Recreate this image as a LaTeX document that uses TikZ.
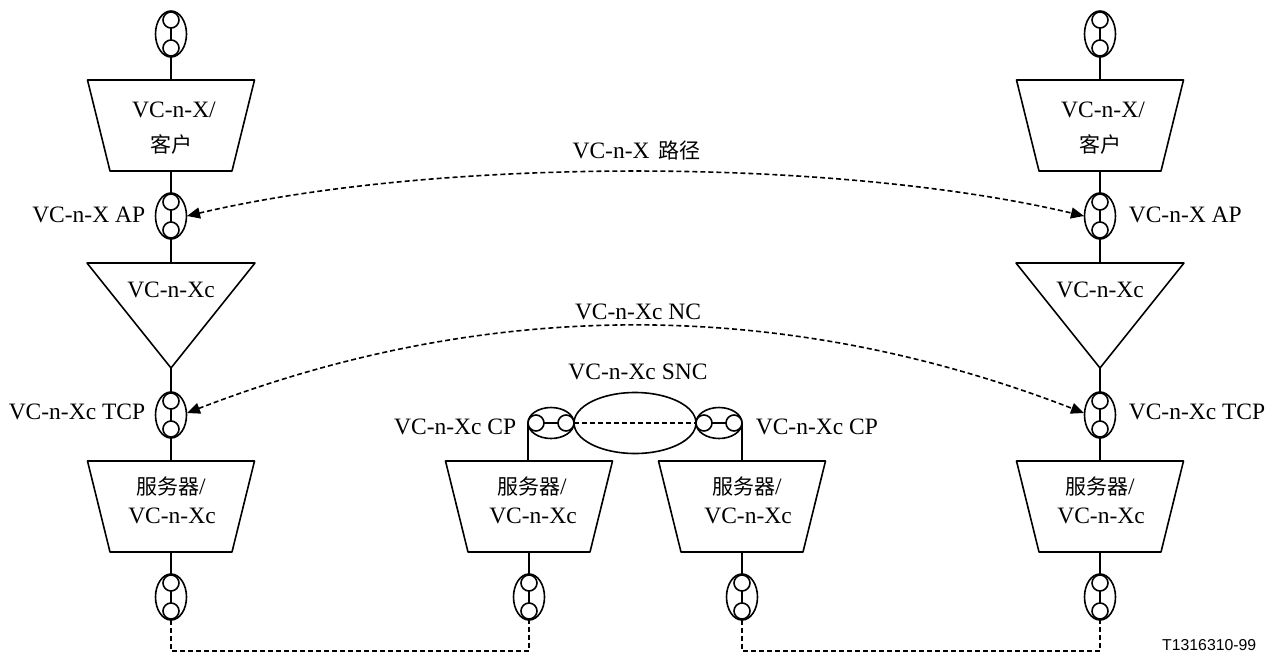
\documentclass[tikz,border=0pt]{standalone}
\usepackage{fontspec}
\setmainfont{Liberation Serif}
\newfontfamily\cjk{Noto Sans CJK SC}
\usetikzlibrary{shapes.geometric,arrows.meta}
\newcommand{\zh}[1]{{\fontsize{21}{24}\selectfont\cjk #1}}
\tikzset{
	portoval/.style={draw,ellipse,inner sep=0,outer sep=0,minimum width=31,minimum height=46},
	portovalh/.style={draw,ellipse,inner sep=0,outer sep=0,minimum width=46,minimum height=31},
	portdot/.style={draw,fill=white,circle,inner sep=0,outer sep=0,minimum size=16},
	lbl/.style={inner sep=0,align=center,font=\fontsize{23.5}{30}\selectfont},
	dashln/.style={dash pattern=on 5pt off 3pt}
}
\begin{document}
\begin{tikzpicture}[x=1pt,y=-1pt,line width=1.6pt,line join=round,>={Triangle[length=13pt,width=11pt]}]
	\useasboundingbox (0,0) rectangle (1274,654);
	% vertical ports, name/x/y
	\foreach \p/\x/\y in {lt/171/34,la/171/216,lc/171/415,lb/171/597,rt/1100/34,ra/1100/216,rc/1100/415,rb/1100/597,mlb/529/597,mrb/742/597} {
		\node[portoval] (\p) at (\x,\y) {};
		\node[portdot] (\p1) at (\x,\y-14) {};
		\node[portdot] (\p2) at (\x,\y+14) {};
		\draw (\p1)--(\p2);
	}
	% columns at both ends
	\foreach \c/\x in {l/171,r/1100} {
		\coordinate (\c cn) at (\x,80);
		\coordinate (\c cs) at (\x,171);
		\coordinate (\c tt) at (\x,263);
		\coordinate (\c ts) at (\x,368);
		\draw (\x-83.5,80)--(\x+83.5,80)--(\x+61,171)--(\x-61,171)--cycle;
		\draw (\x-84,263)--(\x+84,263)--(\c ts)--cycle;
		\node[lbl] at (\x+3,110) {VC-n-X/};
		\node[lbl] at (\x,144) {\zh{客户}};
		\node[lbl] at (\x,290) {VC-n-Xc};
		\draw (\c t)--(\c cn);
		\draw (\c cs)--(\c a);
		\draw (\c a)--(\c tt);
		\draw (\c ts)--(\c c);
	}
	% server boxes, name/x/text shift
	\foreach \s/\x/\dx in {ls/171/0,ms/529/3,ns/742/5,rs/1100/0} {
		\coordinate (\s n) at (\x,461);
		\coordinate (\s s) at (\x,552);
		\draw (\x-83.5,461)--(\x+83.5,461)--(\x+61,552)--(\x-61,552)--cycle;
		\node[lbl] at (\x+\dx,487) {\zh{服务器}/};
		\node[lbl] at (\x+\dx+1,516) {VC-n-Xc};
	}
	\draw (lc)--(lsn);
	\draw (rc)--(rsn);
	\draw (lss)--(lb);
	\draw (rss)--(rb);
	\draw (mss)--(mlb);
	\draw (nss)--(mrb);
	% middle
	\node[portovalh] (mlc) at (551,423) {};
	\node[portovalh] (mrc) at (719,423) {};
	\node[draw,ellipse,inner sep=0,outer sep=0,minimum width=122,minimum height=61] (snc) at (635,423) {};
	\foreach \p/\x in {mlc/536,mrc/704} {
		\node[portdot] (\p1) at (\x,423) {};
		\node[portdot] (\p2) at (\x+30,423) {};
		\draw (\p1)--(\p2);
	}
	\draw (mlc.west)--(msn-|mlc.west);
	\draw (mrc.east)--(nsn-|mrc.east);
	\draw[dashln] (snc.west)--(snc.east);
	% dashed links at the bottom
	\coordinate (ld) at (171,651);
	\coordinate (md) at (529,651);
	\coordinate (nd) at (742,651);
	\coordinate (rd) at (1100,651);
	\draw[dashln] (lb.south)--(ld)--(md)--(mlb.south);
	\draw[dashln] (mrb.south)--(nd)--(rd)--(rb.south);
	% trails
	\coordinate (ap1) at (187,216);
	\coordinate (ap2) at (1084,216);
	\coordinate (tc1) at (187,413);
	\coordinate (tc2) at (1084,413);
	\draw[<->,dashln] (ap1) .. controls (437,157) and (834,157) .. (ap2);
	\draw[<->,dashln] (tc1) .. controls (487,297) and (784,297) .. (tc2);
	% labels
	\node[lbl] at (636.5,151) {VC-n-X\hspace{3pt} \zh{路径}};
	\node[lbl] at (638,312) {VC-n-Xc NC};
	\node[lbl] at (638,372) {VC-n-Xc SNC};
	\node[lbl,anchor=east] at (146,215) {VC-n-X AP};
	\node[lbl,anchor=west] at (1128,215) {VC-n-X AP};
	\node[lbl,anchor=east] at (146,412) {VC-n-Xc TCP};
	\node[lbl,anchor=west] at (1128,412) {VC-n-Xc TCP};
	\node[lbl,anchor=east] at (517,427) {VC-n-Xc CP};
	\node[lbl,anchor=west] at (755,427) {VC-n-Xc CP};
	\node[inner sep=0,anchor=east,font=\fontsize{15.8}{18}\selectfont\fontspec{Liberation Sans}] at (1257,645) {T1316310-99};
\end{tikzpicture}
\end{document}
